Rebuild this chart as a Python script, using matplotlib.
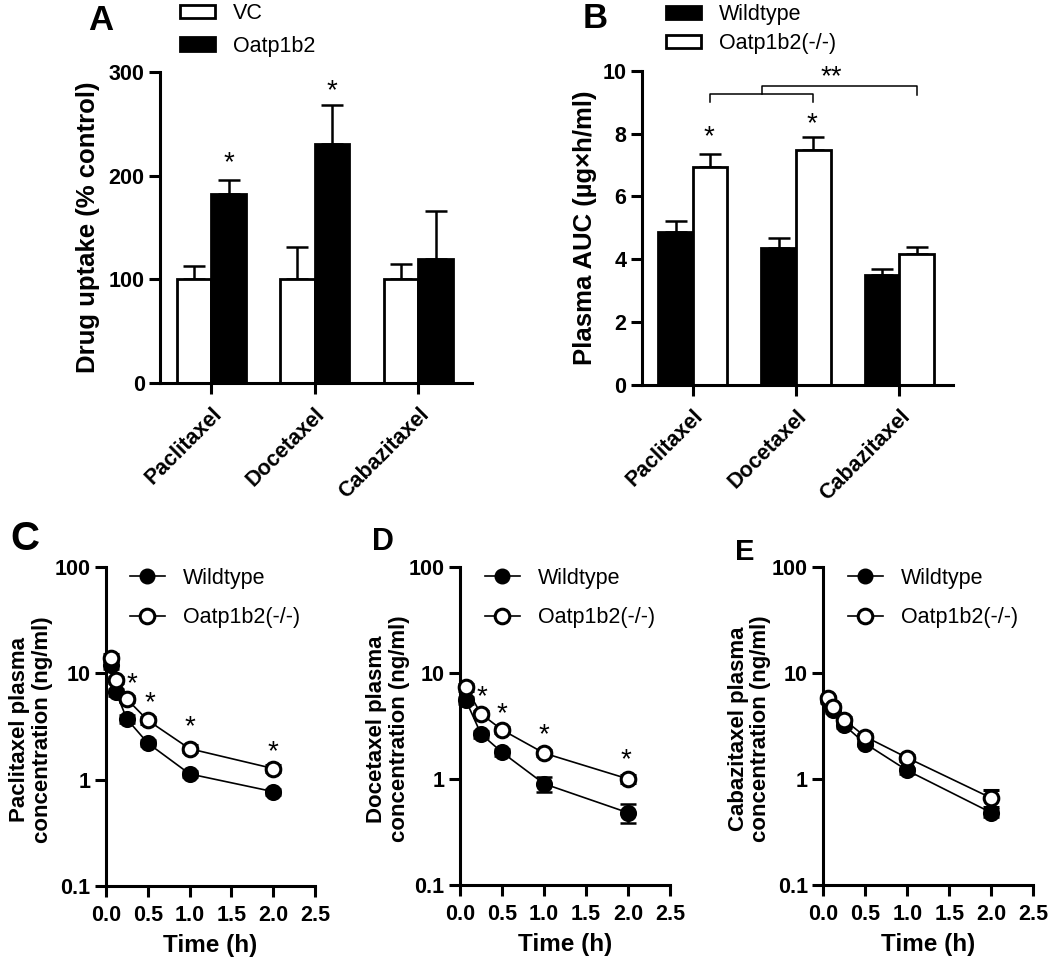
import numpy as np
import matplotlib
matplotlib.use("Agg")
import matplotlib.pyplot as plt
from matplotlib.patches import Patch
from matplotlib.lines import Line2D

plt.rcParams['font.family'] = ['Liberation Sans', 'DejaVu Sans']

# ---------------- data ----------------
drugs = ["Paclitaxel", "Docetaxel", "Cabazitaxel"]

# Panel A: drug uptake (% control)
a_vc = [100, 100, 100]
a_vc_err = [13, 31, 15]
a_oatp = [182, 231, 120]
a_oatp_err = [14, 37, 46]

# Panel B: plasma AUC (ug x h/ml)
b_wt = [4.86, 4.35, 3.50]
b_wt_err = [0.36, 0.33, 0.20]
b_ko = [6.95, 7.48, 4.17]
b_ko_err = [0.39, 0.40, 0.21]

# Panel C: paclitaxel concentration (ng/ml)
c_time = [0.06, 0.12, 0.25, 0.5, 1.0, 2.0]
c_wt = [12.0, 6.6, 3.7, 2.2, 1.13, 0.77]
c_wt_err = [1.0, 0.5, 0.3, 0.15, 0.08, 0.05]
c_ko = [14.0, 8.6, 5.7, 3.6, 1.95, 1.27]
c_ko_err = [1.0, 0.6, 0.4, 0.3, 0.15, 0.1]
c_star_t = [0.307, 0.526, 1.005, 1.994]
c_star_y = [6.7, 4.5, 2.67, 1.57]

# Panel D: docetaxel concentration (ng/ml)
d_time = [0.07, 0.25, 0.5, 1.0, 2.0]
d_wt = [5.5, 2.65, 1.78, 0.90, 0.48]
d_wt_err = [0.4, 0.2, 0.15, 0.15, 0.10]
d_ko = [7.3, 4.1, 2.9, 1.75, 1.0]
d_ko_err = [0.5, 0.3, 0.2, 0.12, 0.08]
d_star_t = [0.266, 0.504, 1.004, 1.98]
d_star_y = [5.05, 3.47, 2.2, 1.28]

# Panel E: cabazitaxel concentration (ng/ml)
e_time = [0.06, 0.12, 0.25, 0.5, 1.0, 2.0]
e_wt = [5.5, 4.5, 3.2, 2.15, 1.2, 0.48]
e_wt_err = [0.3, 0.3, 0.2, 0.1, 0.08, 0.04]
e_ko = [5.8, 4.8, 3.6, 2.5, 1.58, 0.66]
e_ko_err = [0.3, 0.3, 0.2, 0.15, 0.1, 0.12]

log_ticks = [0.1, 1, 10, 100]
log_labels = ["0.1", "1", "10", "100"]
time_ticks = [0.0, 0.5, 1.0, 1.5, 2.0, 2.5]

# ---------------- figure ----------------
W, H = 1050, 960
fig = plt.figure(figsize=(W / 100, H / 100), dpi=100)


def px_rect(left, top, right, bottom):
    return [left / W, 1 - bottom / H, (right - left) / W, (bottom - top) / H]


SPINE_LW = 2.2
TICK_FS = 15.5


def style_axes(ax):
    for s in ['top', 'right']:
        ax.spines[s].set_visible(False)
    for s in ['left', 'bottom']:
        ax.spines[s].set_linewidth(SPINE_LW)
    ax.tick_params(axis='both', which='major', direction='out', length=8,
                   width=SPINE_LW, labelsize=TICK_FS, pad=3)
    for lab in ax.get_xticklabels() + ax.get_yticklabels():
        lab.set_fontweight('bold')


def bar_panel(ax, left_vals, left_err, right_vals, right_err, left_fc, right_fc):
    x = np.arange(len(drugs))
    w = 0.335
    ax.bar(x - w / 2, left_vals, w, color=left_fc, edgecolor='black', linewidth=2, zorder=2)
    ax.bar(x + w / 2, right_vals, w, color=right_fc, edgecolor='black', linewidth=2, zorder=2)
    ax.errorbar(x - w / 2, left_vals, yerr=[np.zeros(len(x)), left_err], fmt='none',
                ecolor='black', elinewidth=1.8, capsize=8, capthick=1.8, zorder=1)
    ax.errorbar(x + w / 2, right_vals, yerr=[np.zeros(len(x)), right_err], fmt='none',
                ecolor='black', elinewidth=1.8, capsize=8, capthick=1.8, zorder=1)
    ax.set_xlim(-0.495, 2.52)
    ax.set_xticks(x)
    ax.set_xticklabels(drugs, rotation=45, ha='right', rotation_mode='anchor',
                       fontsize=15.5, fontweight='bold')
    style_axes(ax)
    ax.tick_params(axis='x', pad=7, labelsize=15.5)
    return x, w


# ---- Panel A ----
axA = fig.add_axes(px_rect(160, 72, 472, 383))
x, w = bar_panel(axA, a_vc, a_vc_err, a_oatp, a_oatp_err, 'white', 'black')
axA.set_ylim(0, 300)
axA.set_yticks([0, 100, 200, 300])
axA.set_yticklabels(["0", "100", "200", "300"], fontweight='bold')
axA.set_ylabel("Drug uptake (% control)", fontsize=18.5, fontweight='bold')
axA.yaxis.set_label_coords(-0.192, 0.5)
for xi, yi in [(0, 205), (1, 275)]:
    axA.text(xi + w / 2, yi, "*", ha='center', va='baseline', fontsize=20)
legA = axA.legend(handles=[Patch(facecolor='white', edgecolor='black', linewidth=2, label='VC'),
                           Patch(facecolor='black', edgecolor='black', linewidth=2, label='Oatp1b2')],
                  loc='upper left', bbox_to_anchor=(180 / W, 1 - 3 / H),
                  bbox_transform=fig.transFigure, frameon=False, fontsize=15.5,
                  handlelength=1.62, handleheight=0.6, handletextpad=0.85,
                  labelspacing=0.55, borderpad=0, borderaxespad=0)

# ---- Panel B ----
axB = fig.add_axes(px_rect(641.7, 70.7, 953, 385))
x, w = bar_panel(axB, b_wt, b_wt_err, b_ko, b_ko_err, 'black', 'white')
axB.set_ylim(0, 10)
axB.set_yticks([0, 2, 4, 6, 8, 10])
axB.set_yticklabels(["0", "2", "4", "6", "8", "10"], fontweight='bold')
axB.set_ylabel("Plasma AUC (µg×h/ml)", fontsize=18.5, fontweight='bold')
axB.yaxis.set_label_coords(-0.145, 0.5)
axB.text(0 + w / 2 - 0.01, 7.65, "*", ha='center', va='baseline', fontsize=20)
axB.text(1 + w / 2 - 0.01, 8.06, "*", ha='center', va='baseline', fontsize=20)
# brackets
bl = dict(color='black', linewidth=1.1, clip_on=False)
axB.plot([0 + w / 2, 0 + w / 2, 1 + w / 2, 1 + w / 2], [9.0, 9.27, 9.27, 9.0], **bl)
mid = 0.5 + w / 2
axB.plot([mid, mid, 2 + w / 2, 2 + w / 2], [9.27, 9.51, 9.51, 9.24], **bl)
axB.text(1.34, 9.57, "**", ha='center', va='baseline', fontsize=20)
legB = axB.legend(handles=[Patch(facecolor='black', edgecolor='black', linewidth=2, label='Wildtype'),
                           Patch(facecolor='white', edgecolor='black', linewidth=2, label='Oatp1b2(-/-)')],
                  loc='upper left', bbox_to_anchor=(666 / W, 1 - 4 / H),
                  bbox_transform=fig.transFigure, frameon=False, fontsize=15.5,
                  handlelength=1.62, handleheight=0.6, handletextpad=0.85,
                  labelspacing=0.38, borderpad=0, borderaxespad=0)


# ---- PK panels ----
def pk_panel(rect, t_wt, wt, wt_err, t_ko, ko, ko_err, ylabel, label_x, leg_x,
             star_t=None, star_y=None):
    ax = fig.add_axes(rect)
    ax.set_yscale('log')
    ax.errorbar(t_wt, wt, yerr=wt_err, fmt='-o', color='black', markersize=10.5,
                markerfacecolor='black', markeredgecolor='black', markeredgewidth=1.8,
                linewidth=1.2, elinewidth=1.8, capsize=6, capthick=1.8, zorder=3,
                clip_on=False)
    ax.errorbar(t_ko, ko, yerr=ko_err, fmt='-o', color='black', markersize=10.5,
                markerfacecolor='white', markeredgecolor='black', markeredgewidth=2.2,
                linewidth=1.2, elinewidth=1.8, capsize=6, capthick=1.8, zorder=4,
                clip_on=False)
    ax.set_xlim(0, 2.5)
    ax.set_ylim(0.1, 100)
    ax.set_xticks(time_ticks)
    ax.set_xticklabels([f"{t:.1f}" for t in time_ticks], fontweight='bold')
    ax.set_yticks(log_ticks)
    ax.set_yticklabels(log_labels, fontweight='bold')
    ax.minorticks_off()
    style_axes(ax)
    ax.tick_params(axis='x', pad=6)
    ax.set_ylabel(ylabel, fontsize=16, fontweight='bold', linespacing=1.1)
    ax.yaxis.set_label_coords(label_x, 0.49)
    ax.set_xlabel("Time (h)", fontsize=17.5, fontweight='bold')
    ax.xaxis.set_label_coords(0.5, -0.15)
    if star_t is not None:
        for st, sy in zip(star_t, star_y):
            ax.text(st, sy, "*", ha='center', va='baseline', fontsize=20)
    handles = [Line2D([], [], color='black', linewidth=1.2, marker='o', markersize=10.5,
                      markerfacecolor='black', markeredgecolor='black', label='Wildtype'),
               Line2D([], [], color='black', linewidth=1.2, marker='o', markersize=10.5,
                      markerfacecolor='white', markeredgecolor='black', markeredgewidth=2.2,
                      label='Oatp1b2(-/-)')]
    ax.legend(handles=handles, loc='upper left', bbox_to_anchor=(leg_x / W, 1 - 568 / H),
              bbox_transform=fig.transFigure, frameon=False, fontsize=15.5,
              handlelength=1.62, handletextpad=0.85, labelspacing=0.85,
              borderpad=0, borderaxespad=0)
    return ax


axC = pk_panel(px_rect(106, 566.7, 315, 886), c_time, c_wt, c_wt_err, c_time, c_ko, c_ko_err,
               "Paclitaxel plasma\nconcentration (ng/ml)", -0.254, 130, c_star_t, c_star_y)
axD = pk_panel(px_rect(460, 566.7, 670, 885), d_time, d_wt, d_wt_err, d_time, d_ko, d_ko_err,
               "Docetaxel plasma\nconcentration (ng/ml)", -0.238, 485, d_star_t, d_star_y)
axE = pk_panel(px_rect(823.3, 566.7, 1033.3, 885), e_time, e_wt, e_wt_err, e_time, e_ko, e_ko_err,
               "Cabazitaxel plasma\nconcentration (ng/ml)", -0.247, 848)

# ---- panel letters ----
for letter, lx, ly, fs in [("A", 88, 30, 25), ("B", 583, 28, 25), ("C", 10, 550, 29),
                           ("D", 372, 550, 22), ("E", 735, 560, 21)]:
    fig.text(lx / W, 1 - ly / H, letter, ha='left', va='baseline', fontsize=fs,
             fontweight='bold')

fig.savefig("out.png", dpi=100, facecolor='white')
